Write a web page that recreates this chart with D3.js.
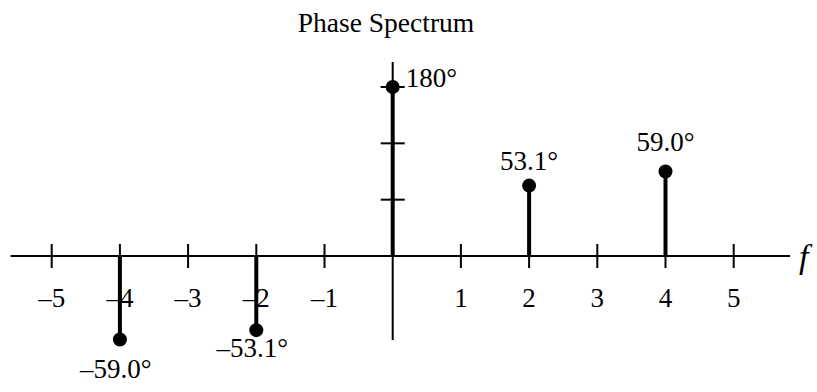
<!DOCTYPE html>
<html>
<head>
<meta charset="utf-8">
<script src="https://cdn.jsdelivr.net/npm/d3@7"></script>
<style>
  body { margin: 0; background: #fff; }
  text { font-family: "Liberation Serif", "Times New Roman", serif; fill: #000; }
</style>
</head>
<body>
<svg id="chart" width="817" height="392"></svg>
<script>
// frequencies of the spectral lines
const freqs = [-4, -2, 0, 2, 4];
// phase written next to each line (degrees)
const phaseLabels = ["–59.0°", "–53.1°", "180°", "53.1°", "59.0°"];
// drawn stem height in the y-axis units (ticks at 60, 120, 180)
const stemHeights = [-89, -79, 180, 75, 90];
// tick labels along f
const xTicks = [-5, -4, -3, -2, -1, 1, 2, 3, 4, 5];
const yTicks = [60, 120, 180];

const svg = d3.select("#chart");

const x = d3.scaleLinear().domain([-5, 5]).range([51.7, 733.7]);
const y = d3.scaleLinear().domain([0, 180]).range([256, 87]);

// title
svg.append("text")
    .attr("x", 386).attr("y", 32)
    .attr("text-anchor", "middle")
    .style("font-size", "27.5px")
    .text("Phase Spectrum");

// horizontal axis
svg.append("line")
    .attr("x1", 10.5).attr("x2", 790)
    .attr("y1", y(0)).attr("y2", y(0))
    .attr("stroke", "#000").attr("stroke-width", 2);

svg.selectAll(".xtick")
  .data(xTicks)
  .join("line").attr("class", "xtick")
    .attr("x1", d => x(d)).attr("x2", d => x(d))
    .attr("y1", y(0) - 12).attr("y2", y(0) + 12)
    .attr("stroke", "#000").attr("stroke-width", 2);

svg.selectAll(".xlabel")
  .data(xTicks)
  .join("text").attr("class", "xlabel")
    .attr("x", d => x(d)).attr("y", 307)
    .attr("text-anchor", "middle")
    .style("font-size", "27px")
    .text(d => d < 0 ? "–" + Math.abs(d) : d);

svg.append("text")
    .attr("x", 799).attr("y", 268)
    .style("font-size", "34px").style("font-style", "italic")
    .text("f");

// vertical axis
svg.append("line")
    .attr("x1", x(0)).attr("x2", x(0))
    .attr("y1", 62).attr("y2", 340)
    .attr("stroke", "#000").attr("stroke-width", 2);

svg.selectAll(".ytick")
  .data(yTicks)
  .join("line").attr("class", "ytick")
    .attr("x1", x(0) - 12).attr("x2", x(0) + 12)
    .attr("y1", d => y(d)).attr("y2", d => y(d))
    .attr("stroke", "#000").attr("stroke-width", 2);

// stems
const lines = freqs.map((f, i) => ({f, h: stemHeights[i], label: phaseLabels[i]}));

svg.selectAll(".stem")
  .data(lines)
  .join("line").attr("class", "stem")
    .attr("x1", d => x(d.f)).attr("x2", d => x(d.f))
    .attr("y1", y(0)).attr("y2", d => y(d.h))
    .attr("stroke", "#000").attr("stroke-width", 4);

svg.selectAll(".dot")
  .data(lines)
  .join("circle").attr("class", "dot")
    .attr("cx", d => x(d.f)).attr("cy", d => y(d.h))
    .attr("r", 7).attr("fill", "#000");

// labels: above positive lines, below negative ones, beside the one at f = 0
const labelDy = [38, 27, 0, -16, -21];
svg.selectAll(".plabel")
  .data(lines)
  .join("text").attr("class", "plabel")
    .attr("x", d => d.f === 0 ? x(d.f) + 13 : x(d.f) + (d.h < 0 ? -4 : 0))
    .attr("y", (d, i) => y(d.h) + labelDy[i])
    .attr("text-anchor", d => d.f === 0 ? "start" : "middle")
    .style("font-size", "27px")
    .text(d => d.label);
</script>
</body>
</html>
